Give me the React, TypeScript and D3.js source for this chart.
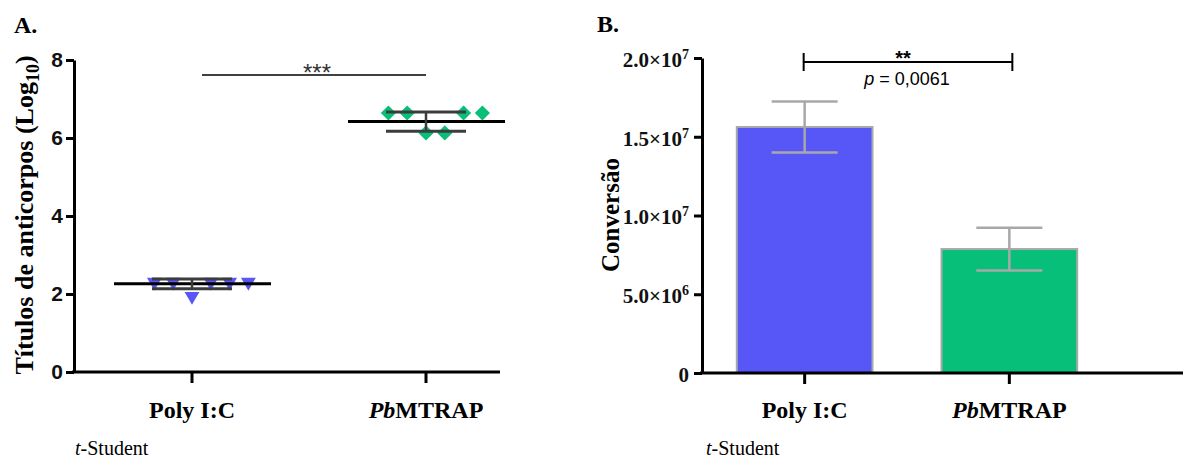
import React, { useEffect, useRef } from "react";
import * as d3 from "d3";

// Panel A: antibody titers (log10), one value per mouse
const categories = ["Poly I:C", "PbMTRAP"];
const polyTiters = [2.33, 2.33, 1.97, 2.33, 2.33, 2.33];
const mtrapTiters = [6.64, 6.64, 6.13, 6.13, 6.64, 6.64];
const titerMean = [2.26, 6.42];
const titerSd = [0.125, 0.245];
const titerTicks = [0, 2, 4, 6, 8];

// Panel B: conversion, mean +/- error
const conversaoMean = [1.562e7, 7.87e6];
const conversaoErr = [1.62e6, 1.36e6];
const conversaoTicks = [0, 5e6, 1e7, 1.5e7, 2e7];

const serif = "'Liberation Serif', 'Times New Roman', serif";
const sans = "'Liberation Sans', Arial, sans-serif";
const blue = "#5757f8";
const green = "#08bf79";

const App = () => {
  const ref = useRef<SVGSVGElement>(null);

  useEffect(() => {
    const svg = d3.select(ref.current);
    svg.selectAll("*").remove();

    // ---------- panel A ----------
    const gA = svg.append("g");
    const yA = d3.scaleLinear().domain([0, 8]).range([372, 60]);
    const xA = d3.scaleBand().domain(categories).range([75, 543]);
    const cx = (c: string) => (xA(c) as number) + xA.bandwidth() / 2;

    gA.append("text").attr("x", 14).attr("y", 33).text("A.")
      .attr("font-family", serif).attr("font-weight", "bold").attr("font-size", 24);

    const axA = gA.append("g").attr("transform", "translate(74,0)")
      .call(d3.axisLeft(yA).tickValues(titerTicks).tickSize(8).tickSizeOuter(0).tickPadding(3));
    axA.select(".domain").attr("stroke-width", 3);
    axA.selectAll(".tick line").attr("stroke-width", 3);
    axA.selectAll(".tick text").attr("font-family", sans).attr("font-weight", "bold")
      .attr("font-size", 21).attr("fill", "#111");

    gA.append("line").attr("x1", 72).attr("x2", 500).attr("y1", yA(0)).attr("y2", yA(0))
      .attr("stroke", "#000").attr("stroke-width", 3);
    const bxA = gA.append("g").attr("transform", `translate(0,${yA(0)})`)
      .call(d3.axisBottom(xA).tickSize(11).tickPadding(20));
    bxA.select(".domain").remove();
    bxA.selectAll(".tick line").attr("stroke-width", 3);
    bxA.selectAll(".tick text").remove();

    const catLabel = (g: any, x: number, c: string) => {
      const t = g.append("text").attr("x", x).attr("y", 418).attr("text-anchor", "middle")
        .attr("font-family", serif).attr("font-weight", "bold").attr("font-size", 24);
      if (c.startsWith("Pb")) {
        t.append("tspan").attr("font-style", "italic").text("Pb");
        t.append("tspan").text(c.slice(2));
      } else t.text(c);
    };
    categories.forEach((c) => catLabel(gA, cx(c), c));

    gA.append("text").attr("transform", "translate(33,215) rotate(-90)")
      .attr("text-anchor", "middle").attr("font-family", serif).attr("font-weight", "bold")
      .attr("font-size", 26)
      .call((t: any) => {
        t.append("tspan").text("Títulos de anticorpos (Log");
        t.append("tspan").attr("font-size", 18).attr("dy", 6).text("10");
        t.append("tspan").attr("dy", -6).text(")");
      });

    // points
    const sym = d3.symbol();
    const groups = [
      { c: categories[0], vals: polyTiters, color: blue, shape: d3.symbolTriangle, size: 95, rot: 180 },
      { c: categories[1], vals: mtrapTiters, color: green, shape: d3.symbolSquare, size: 115, rot: 45 },
    ];
    groups.forEach((gr, gi) => {
      const x0 = cx(gr.c);
      gA.selectAll(null).data(gr.vals).enter().append("path")
        .attr("d", sym.type(gr.shape).size(gr.size)())
        .attr("transform", (d, i) => `translate(${x0 + (i - 2) * 18.8},${yA(d) + (gr.rot === 180 ? 1 : 0)}) rotate(${gr.rot})`)
        .attr("fill", gr.color);
      const m = titerMean[gi], s = titerSd[gi];
      gA.append("line").attr("x1", x0 - 78).attr("x2", x0 + 79).attr("y1", yA(m)).attr("y2", yA(m))
        .attr("stroke", "#000").attr("stroke-width", 3);
      const eg = gA.append("g").attr("stroke", "#3c3c3c").attr("stroke-width", 3);
      eg.append("line").attr("x1", x0).attr("x2", x0).attr("y1", yA(m + s)).attr("y2", yA(m - s)).attr("stroke-width", 2.5);
      [m + s, m - s].forEach((v) => {
        eg.append("line").attr("x1", x0 - 40).attr("x2", x0 + 40).attr("y1", yA(v)).attr("y2", yA(v));
      });
    });

    gA.append("line").attr("x1", 202).attr("x2", cx(categories[1])).attr("y1", 75).attr("y2", 75)
      .attr("stroke", "#000").attr("stroke-width", 1.5);
    gA.append("text").attr("x", 317).attr("y", 81).attr("text-anchor", "middle")
      .attr("font-family", sans).attr("font-size", 24).attr("fill", "#333").text("***");

    gA.append("text").attr("x", 75).attr("y", 455).attr("font-family", serif).attr("font-size", 20)
      .call((t: any) => {
        t.append("tspan").attr("font-style", "italic").text("t");
        t.append("tspan").text("-Student");
      });

    // ---------- panel B ----------
    const gB = svg.append("g");
    const yB = d3.scaleLinear().domain([0, 2e7]).range([373, 58]);
    const xB = d3.scaleBand().domain(categories).range([702, 1112]).paddingInner(0.337).paddingOuter(0.17);
    const cxB = (c: string) => (xB(c) as number) + xB.bandwidth() / 2;

    gB.append("text").attr("x", 597).attr("y", 32).text("B.")
      .attr("font-family", serif).attr("font-weight", "bold").attr("font-size", 24);

    // bars
    gB.selectAll(null).data(categories).enter().append("rect")
      .attr("x", (c) => xB(c) as number).attr("width", xB.bandwidth())
      .attr("y", (c, i) => yB(conversaoMean[i])).attr("height", (c, i) => yB(0) - yB(conversaoMean[i]))
      .attr("fill", (c, i) => (i === 0 ? blue : green)).attr("stroke", "#a9a9a9").attr("stroke-width", 2);

    categories.forEach((c, i) => {
      const x0 = cxB(c), m = conversaoMean[i], e = conversaoErr[i];
      const eg = gB.append("g").attr("stroke", "#a8a8a8").attr("stroke-width", 2.5);
      eg.append("line").attr("x1", x0).attr("x2", x0).attr("y1", yB(m + e)).attr("y2", yB(m - e));
      [m + e, m - e].forEach((v) => {
        eg.append("line").attr("x1", x0 - 33).attr("x2", x0 + 33).attr("y1", yB(v)).attr("y2", yB(v));
      });
    });

    const axB = gB.append("g").attr("transform", "translate(702,0)")
      .call(d3.axisLeft(yB).tickValues(conversaoTicks).tickSize(8).tickSizeOuter(0).tickPadding(5).tickFormat(() => ""));
    axB.select(".domain").attr("stroke-width", 3);
    axB.selectAll(".tick line").attr("stroke-width", 3);
    axB.selectAll(".tick text").each(function (d: any) {
      const t = d3.select(this).attr("font-family", serif).attr("font-weight", "bold")
        .attr("font-size", 21).attr("fill", "#111").attr("dy", "0.4em");
      if (d === 0) { t.text("0"); return; }
      const exp = Math.floor(Math.log10(d));
      const man = d / Math.pow(10, exp);
      t.append("tspan").text(`${man.toFixed(1)}×10`);
      t.append("tspan").attr("font-size", 14).attr("dy", -8).text(String(exp));
    });

    gB.append("line").attr("x1", 700).attr("x2", 1183).attr("y1", yB(0)).attr("y2", yB(0))
      .attr("stroke", "#000").attr("stroke-width", 3);
    const bxB = gB.append("g").attr("transform", `translate(0,${yB(0)})`)
      .call(d3.axisBottom(xB).tickSize(11));
    bxB.select(".domain").remove();
    bxB.selectAll(".tick line").attr("stroke-width", 3);
    bxB.selectAll(".tick text").remove();
    categories.forEach((c) => catLabel(gB, cxB(c), c));

    gB.append("text").attr("transform", "translate(619,215) rotate(-90)")
      .attr("text-anchor", "middle").attr("font-family", serif).attr("font-weight", "bold")
      .attr("font-size", 25).text("Conversão");

    const b1 = cxB(categories[0]) - 1, b2 = cxB(categories[1]) + 3;
    const sg = gB.append("g").attr("stroke", "#000").attr("stroke-width", 2);
    sg.append("line").attr("x1", b1).attr("x2", b2).attr("y1", 62).attr("y2", 62);
    sg.append("line").attr("x1", b1).attr("x2", b1).attr("y1", 53).attr("y2", 71);
    sg.append("line").attr("x1", b2).attr("x2", b2).attr("y1", 53).attr("y2", 71);
    gB.append("text").attr("x", 903).attr("y", 65).attr("text-anchor", "middle")
      .attr("font-family", sans).attr("font-weight", "bold").attr("font-size", 20).text("**");
    gB.append("text").attr("x", 907).attr("y", 85).attr("text-anchor", "middle")
      .attr("font-family", sans).attr("font-size", 18)
      .call((t: any) => {
        t.append("tspan").attr("font-style", "italic").text("p");
        t.append("tspan").text(" = 0,0061");
      });

    gB.append("text").attr("x", 706).attr("y", 455).attr("font-family", serif).attr("font-size", 20)
      .call((t: any) => {
        t.append("tspan").attr("font-style", "italic").text("t");
        t.append("tspan").text("-Student");
      });
  }, []);

  return (
    <svg ref={ref} width={1183} height={461}
      style={{ position: "absolute", left: 0, top: 0, background: "#fff" }} />
  );
};

export default App;
